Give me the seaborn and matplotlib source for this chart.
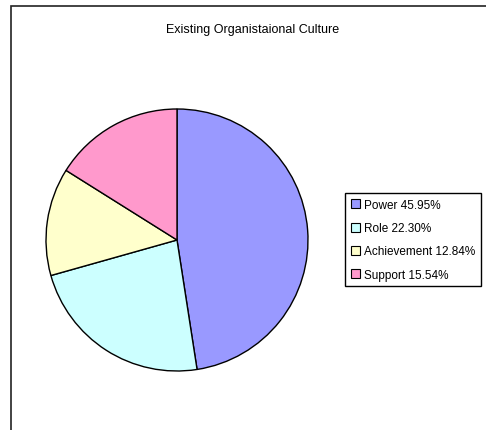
import matplotlib
matplotlib.use("Agg")
import matplotlib.pyplot as plt
from matplotlib.patches import Rectangle, Patch
import seaborn as sns

categories = ["Power", "Role", "Achievement", "Support"]
shares = [45.95, 22.30, 12.84, 15.54]
colors = ["#9999FF", "#CCFFFF", "#FFFFCC", "#FF99CC"]
title = "Existing Organistaional Culture"

sns.set_theme(style="white")
plt.rcParams["font.family"] = ["Liberation Sans", "DejaVu Sans"]
plt.rcParams["text.color"] = "black"

W, H = 486, 431
fig = plt.figure(figsize=(W / 100, H / 100), dpi=100)
fig.patch.set_facecolor("white")

# chart-area frame (open on the right and bottom edges)
fig.add_artist(Rectangle((11 / W, -0.1), 1.2, 1.1 - 7 / H, transform=fig.transFigure,
                         fill=False, edgecolor="#222222", linewidth=1.2))

cx, cy, r = 177, 241, 131
ax = fig.add_axes([(cx - r) / W, (H - cy - r) / H, 2 * r / W, 2 * r / H])
wedges, _ = ax.pie(shares, colors=colors, startangle=90, counterclock=False,
                   wedgeprops=dict(edgecolor="black", linewidth=1.0))
for w in wedges:
    w.set_clip_on(False)
ax.set_xlim(-1, 1)
ax.set_ylim(-1, 1)
ax.set_aspect("equal")
ax.axis("off")

fig.text(253 / W, 1 - 30 / H, title, ha="center", va="center", fontsize=9, color="black")

handles = [Patch(facecolor=c, edgecolor="black", linewidth=0.8) for c in colors]
labels = [f"{c} {v:.2f}%" for c, v in zip(categories, shares)]
leg = fig.legend(handles, labels, loc="upper left",
                 bbox_to_anchor=(345 / W, 1 - 194 / H), bbox_transform=fig.transFigure,
                 fontsize=8.5, frameon=True, fancybox=False, framealpha=1,
                 edgecolor="black", handlelength=0.8, handleheight=0.8,
                 handletextpad=0.3, labelspacing=0.95, borderpad=0.5,
                 borderaxespad=0)
leg.get_frame().set_linewidth(1.0)
for t in leg.get_texts():
    t.set_color("black")

fig.savefig("out.png", dpi=100)
